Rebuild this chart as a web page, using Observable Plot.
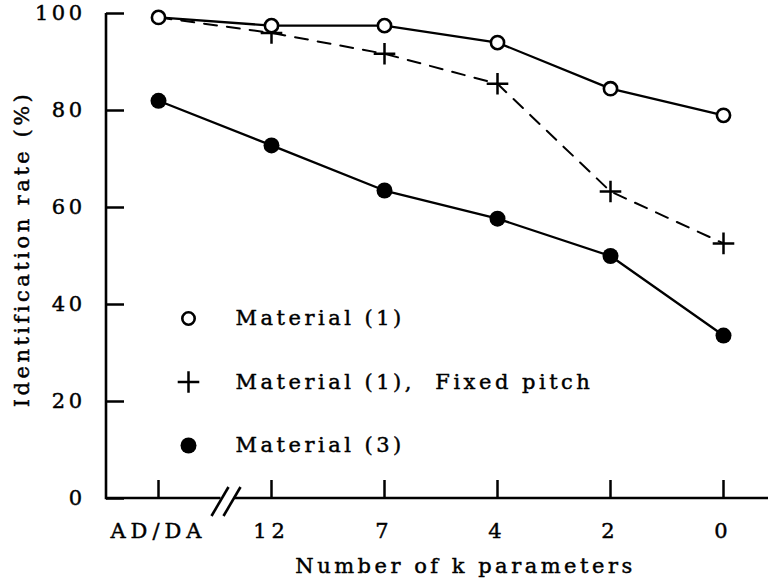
<!DOCTYPE html>
<html><head><meta charset="utf-8">
<script src="https://cdn.jsdelivr.net/npm/d3@7"></script>
<script src="https://cdn.jsdelivr.net/npm/@observablehq/plot@0.6"></script>
<style>body{margin:0;background:#fff} svg text{stroke:#000;stroke-width:0.45px}</style>
</head><body><div id="chart"></div>
<script>
const categories = ["AD/DA", "12", "7", "4", "2", "0"];
const material1 = [99.2, 97.5, 97.5, 94, 84.5, 79];
const material1Fixed = [99.2, 96, 91.7, 85.5, 63.3, 52.6];
const material3 = [82, 72.8, 63.5, 57.7, 50, 33.6];
const yTicks = [0, 20, 40, 60, 80, 100];
const legendLabels = ["Material (1)", "Material (1),  Fixed pitch", "Material (3)"];
const xTitle = "Number of k parameters";
const yTitle = "Identification rate (%)";

const rows = (vals) => categories.map((c, i) => ({cat: c, v: vals[i]}));
const d1 = rows(material1), dF = rows(material1Fixed), d3r = rows(material3);
const ink = "#000";
const fs = 21;

const legendMark = (i, opts) => Plot.dot([0], {frameAnchor: "top-left", dx: 82, dy: 305 + i * 63.5, ...opts});
const legendText = (i) => Plot.text([legendLabels[i]], {frameAnchor: "top-left", lineAnchor: "middle", dx: 129, dy: 305 + i * 63.5, textAnchor: "start", fontSize: fs, fill: ink});

const chart = Plot.plot({
  width: 768, height: 578,
  marginLeft: 106, marginRight: 0, marginTop: 13, marginBottom: 80,
  style: {fontFamily: "DejaVu Serif", fontSize: fs + "px", letterSpacing: "3.5px", color: ink, background: "#fff"},
  x: {type: "point", domain: categories, range: [158, 723], padding: 0},
  y: {domain: [0, 100]},
  marks: [
    Plot.axisY({ticks: yTicks, tickSize: -18, tickFormat: () => "", strokeWidth: 2.5, label: null}),
    Plot.axisY({ticks: yTicks, tickSize: 0, tickPadding: 21, label: null, fontSize: fs}),
    Plot.axisX({tickSize: -18, tickFormat: () => "", strokeWidth: 2.5, label: null}),
    Plot.axisX({tickSize: 0, tickPadding: 25, label: null, fontSize: fs}),
    Plot.text([xTitle], {frameAnchor: "bottom", textAnchor: "middle", dx: 28, dy: 74, fontSize: fs, fill: ink}),
    Plot.text([yTitle], {frameAnchor: "left", textAnchor: "middle", rotate: -90, dx: -84, dy: -7, fontSize: fs, fill: ink}),
    Plot.line(dF, {x: "cat", y: "v", stroke: ink, strokeWidth: 2, strokeDasharray: "13,10"}),
    Plot.line(d1, {x: "cat", y: "v", stroke: ink, strokeWidth: 2.3}),
    Plot.line(d3r, {x: "cat", y: "v", stroke: ink, strokeWidth: 2.3}),
    Plot.dot(dF, {filter: (d) => d.cat !== "AD/DA", x: "cat", y: "v", symbol: "plus", r: 7, stroke: ink, strokeWidth: 2.5}),
    Plot.dot(d1, {x: "cat", y: "v", r: 6.6, fill: "#fff", stroke: ink, strokeWidth: 2.6}),
    Plot.dot(d3r, {x: "cat", y: "v", r: 8, fill: ink, stroke: "none"}),
    legendMark(0, {r: 6.2, fill: "#fff", stroke: ink, strokeWidth: 2.6}),
    legendText(0),
    legendMark(1, {symbol: "plus", r: 7, stroke: ink, strokeWidth: 2.5}),
    legendText(1),
    legendMark(2, {r: 8, fill: ink, stroke: "none"}),
    legendText(2)
  ]
});

// axis lines and break mark
const svg = d3.select(chart);
svg.selectAll('[aria-label="x-axis tick label"] text').attr("letter-spacing", "5px");
const xs = chart.scale("x"), ys = chart.scale("y");
const y0 = ys.apply(0), yTop = ys.apply(100);
const left = 106, right = 768;
const bx = (xs.apply(categories[0]) + xs.apply(categories[1])) / 2 + 12;
const g = svg.append("g").attr("stroke", ink).attr("stroke-width", 2.6).attr("fill", "none");
g.append("line").attr("x1", left).attr("x2", left).attr("y1", yTop).attr("y2", y0 + 1.3);
g.append("line").attr("x1", left).attr("x2", bx - 6).attr("y1", y0).attr("y2", y0);
g.append("line").attr("x1", bx + 7).attr("x2", right).attr("y1", y0).attr("y2", y0);
[0, 1].forEach((i) => {
  g.append("line").attr("x1", bx - 15 + i * 12).attr("y1", y0 + 18).attr("x2", bx + 2 + i * 12).attr("y2", y0 - 11);
});

document.getElementById("chart").append(chart);
</script>
</body></html>
